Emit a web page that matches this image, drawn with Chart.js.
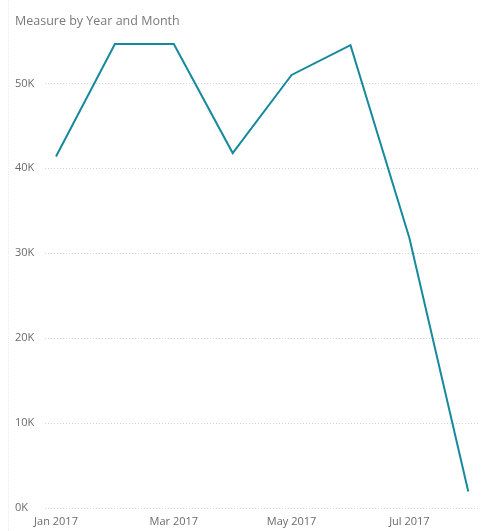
<!DOCTYPE html>
<html>
<head>
<meta charset="utf-8">
<script src="https://cdn.jsdelivr.net/npm/chart.js@4.4.1/dist/chart.umd.min.js"></script>
<style>
  html, body { margin: 0; padding: 0; background: #fff; }
  #wrap { position: relative; width: 485px; height: 531px; }
  #title { position: absolute; left: 15px; top: 12px; font: 12.5px "Open Sans", sans-serif; color: #7a7a7a; }
  #edge { position: absolute; left: 8px; top: 0; bottom: 0; border-left: 1px dotted #ececec; }
  canvas { position: absolute; left: 0; top: 0; }
</style>
</head>
<body>
<div id="wrap">
  <div id="edge"></div>
  <canvas id="myChart" width="485" height="531"></canvas>
  <div id="title">Measure by Year and Month</div>
</div>
<script>
/* data */
const months = ['Jan 2017', 'Feb 2017', 'Mar 2017', 'Apr 2017', 'May 2017', 'Jun 2017', 'Jul 2017', 'Aug 2017'];
const measure = [41400, 54650, 54650, 41800, 51000, 54500, 31800, 1950];
const yTicks = [0, 10000, 20000, 30000, 40000, 50000];

const points = measure.map((v, i) => ({x: i, y: v}));
const tickFont = {family: '"Open Sans", sans-serif', size: 11};

const myChart = new Chart(document.getElementById('myChart'), {
  type: 'line',
  data: {
    datasets: [{
      label: 'Measure',
      data: points,
      borderColor: '#168a9c',
      borderWidth: 2,
      pointRadius: 0,
      tension: 0,
      fill: false
    }]
  },
  options: {
    responsive: false,
    animation: false,
    events: [],
    layout: { padding: { top: 24, right: 7, left: 15, bottom: 0 } },
    plugins: { legend: { display: false }, title: { display: false }, tooltip: { enabled: false } },
    scales: {
      x: {
        type: 'linear',
        min: -0.187,
        max: 7.165,
        grid: { display: false, drawTicks: false },
        border: { display: false },
        afterFit: s => { s.height = 23; },
        ticks: {
          stepSize: 1,
          autoSkip: false,
          includeBounds: false,
          maxRotation: 0,
          padding: 7,
          color: '#6b6b6b',
          font: tickFont,
          callback: v => (Number.isInteger(v) && v % 2 === 0) ? months[v] : null
        }
      },
      y: {
        min: 0,
        max: 57000,
        afterFit: s => { s.width = 30; },
        afterBuildTicks: s => { s.ticks = yTicks.map(v => ({value: v})); },
        grid: { color: '#d4d4d4', lineWidth: 1, drawTicks: false },
        border: { display: false, dash: [1, 2] },
        ticks: {
          crossAlign: 'far',
          padding: 4,
          color: '#6b6b6b',
          font: tickFont,
          callback: v => (v / 1000) + 'K'
        }
      }
    }
  }
});
</script>
</body>
</html>
